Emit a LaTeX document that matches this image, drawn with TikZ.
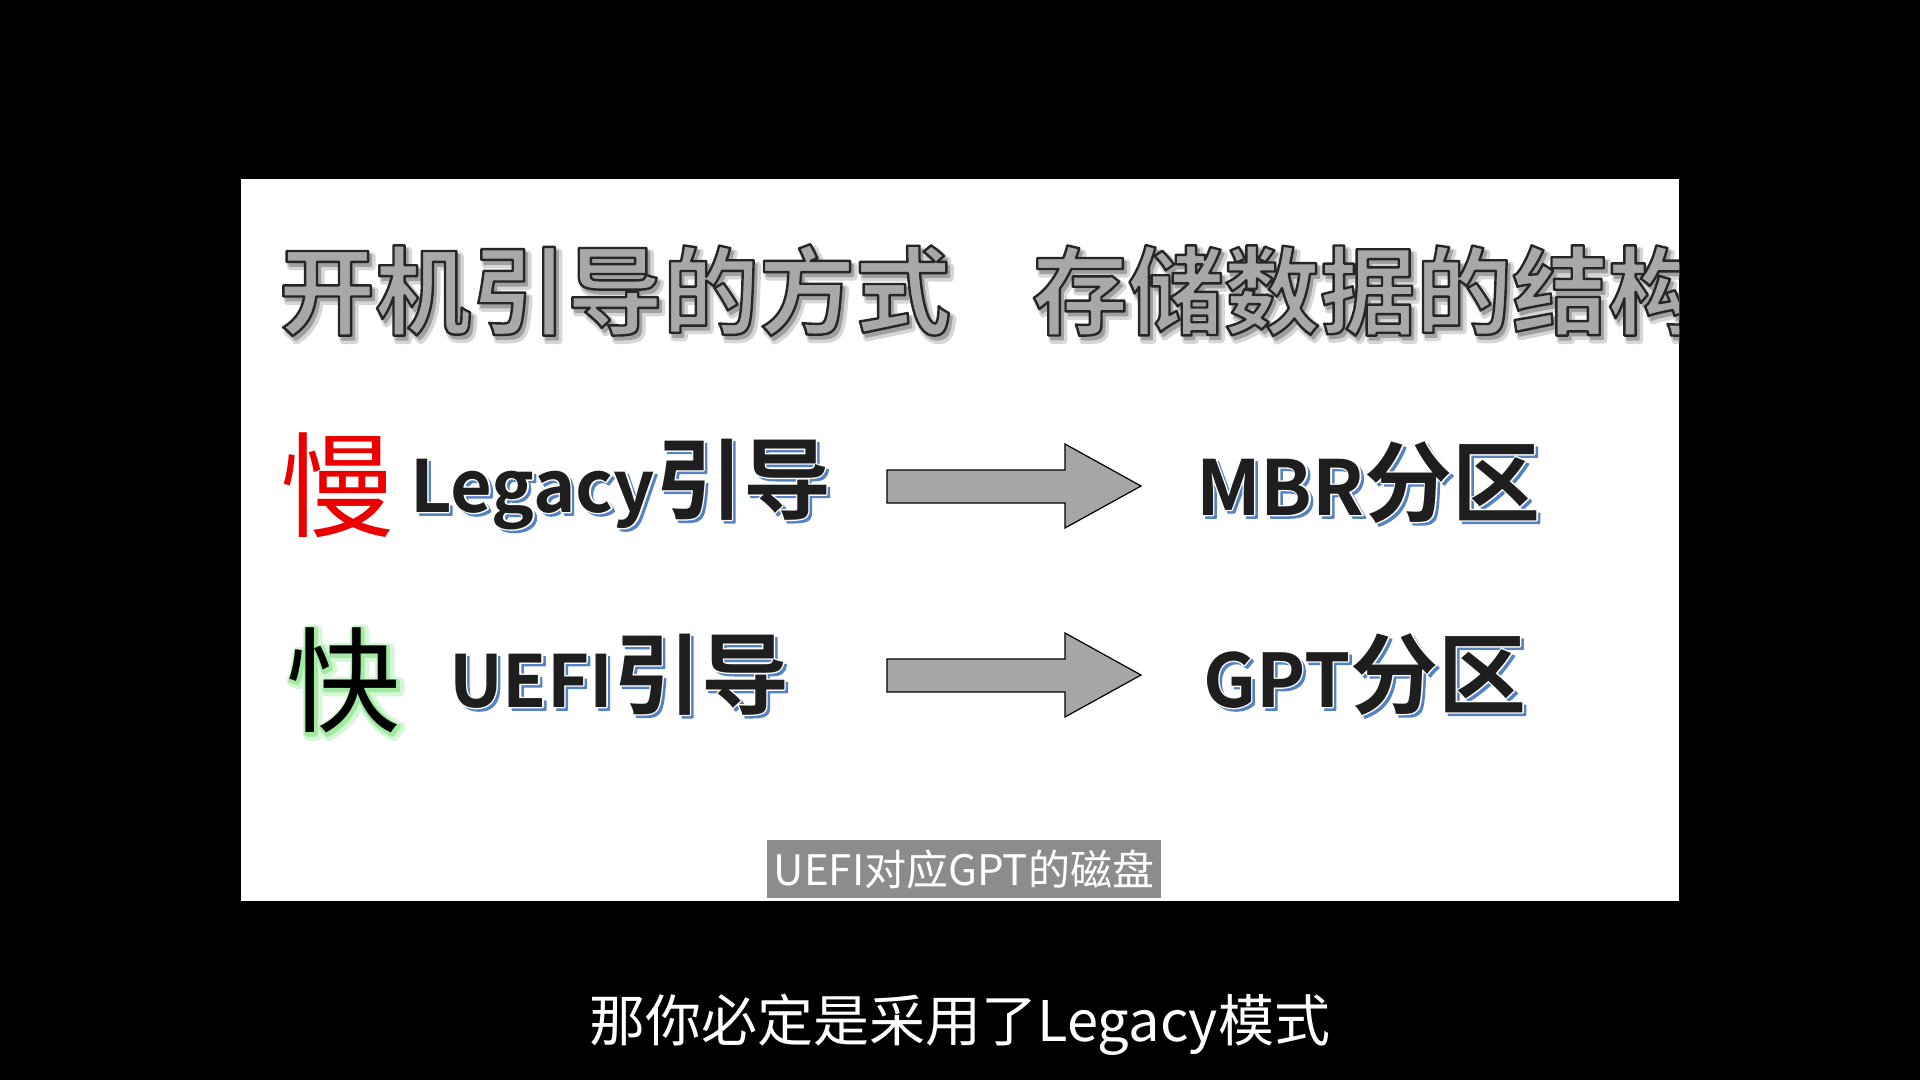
\documentclass[tikz,border=0pt]{standalone}
\usepackage{fontspec}
\newfontfamily\cjk{Noto Sans CJK SC}[BoldFont={Noto Sans CJK SC Bold}]
\definecolor{tgray}{RGB}{168,168,168}
\definecolor{tdark}{RGB}{30,30,30}
\definecolor{sblue}{RGB}{85,130,195}
\definecolor{agray}{RGB}{166,166,166}
\definecolor{capgray}{RGB}{140,140,140}
\definecolor{slowred}{RGB}{235,0,0}
\definecolor{glowA}{RGB}{215,248,215}
\definecolor{glowB}{RGB}{160,235,160}
\definecolor{tshadowA}{RGB}{215,215,215}
\definecolor{tshadowB}{RGB}{160,160,160}
% #1 fill colour, #2 stroke rgb (pdf numbers), #3 stroke width, #4 text
\newcommand\strk[4]{{\color{#1}\special{pdf:literal direct #2 RG #3 w 1 j 2 Tr}#4\special{pdf:literal direct 0 Tr 0 j}}}
\newcommand\shifted[3]{\rlap{\hspace{#1}\raisebox{-#2}{#3}}}
\newcommand\titletext[1]{\shifted{4pt}{5pt}{\strk{tshadowA}{0.84 0.84 0.84}{7}{#1}}\shifted{3pt}{4pt}{\strk{tshadowB}{0.63 0.63 0.63}{2}{#1}}\strk{tgray}{0.15 0.15 0.15}{2.4}{#1}}
\newcommand\bluetext[1]{\shifted{3pt}{3pt}{\strk{sblue}{0.33 0.51 0.76}{1.5}{#1}}\rlap{\strk{white}{1 1 1}{2.6}{#1}}{\color{tdark}#1}}
\newcommand\glowtext[1]{\shifted{3pt}{3pt}{\strk{glowA}{0.84 0.97 0.84}{11}{#1}}\shifted{1.5pt}{2pt}{\strk{glowB}{0.63 0.92 0.63}{5}{#1}}{\color{black}#1}}
\tikzset{
  lbl/.style={inner sep=0pt, outer sep=0pt, anchor=base west, font=\cjk},
  blockarrow/.style={draw=black, line width=1.2pt, fill=agray, line join=miter},
}
\begin{document}
\begin{tikzpicture}[x=1pt,y=-1pt]
\useasboundingbox (0,0) rectangle (1920,1080);
\fill[black] (0,0) rectangle (1920,1080);
\fill[white] (241,179) rectangle (1679,901);
\begin{scope}
\clip (241,179) rectangle (1679,901);
\node[lbl, font=\cjk\bfseries\fontsize{96}{96}\selectfont] (t1) at (279,327) {\titletext{开机引导的方式}};
\node[lbl, font=\cjk\bfseries\fontsize{96}{96}\selectfont] (t2) at (1032,327) {\titletext{存储数据的结构}};
\end{scope}
% row 1
\node[lbl, font=\cjk\fontsize{114}{114}\selectfont, text=slowred] (slow) at (280,528) {慢};
\node[lbl] (legacy) at (410,512) {\bluetext{\bfseries\fontsize{72}{72}\selectfont Legacy\fontsize{88}{88}\selectfont 引导}};
\node[lbl] (mbr) at (1196,515) {\bluetext{\bfseries\fontsize{76}{76}\selectfont MBR\fontsize{88}{88}\selectfont 分区}};
\draw[blockarrow] (887,470) -- (1065,470) -- (1065,444) -- (1141,486) -- (1065,528) -- (1065,503) -- (887,503) -- cycle;
% row 2
\node[lbl, font=\cjk\fontsize{114}{114}\selectfont] (fast) at (286,723) {\glowtext{快}};
\node[lbl] (uefi) at (449,707) {\bluetext{\bfseries\fontsize{72}{72}\selectfont UEFI\fontsize{88}{88}\selectfont 引导}};
\node[lbl] (gpt) at (1203,707) {\bluetext{\bfseries\fontsize{74}{74}\selectfont GPT\fontsize{88}{88}\selectfont 分区}};
\draw[blockarrow] (887,659) -- (1065,659) -- (1065,633) -- (1141,675) -- (1065,717) -- (1065,692) -- (887,692) -- cycle;
% caption
\node[fill=capgray, minimum width=394pt, minimum height=58pt, inner sep=0pt, text=white, font=\cjk\fontsize{42}{42}\selectfont] (cap) at (964,869) {UEFI对应GPT的磁盘};
% subtitle
\node[inner sep=0pt, text=white, font=\cjk\fontsize{56}{56}\selectfont] (sub) at (960,1025) {那你必定是采用了Legacy模式};
\end{tikzpicture}
\end{document}
